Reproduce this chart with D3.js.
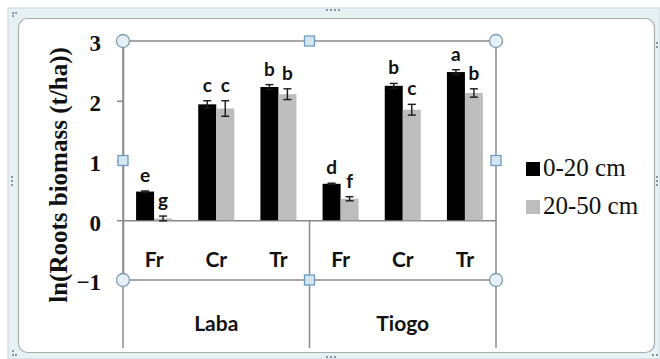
<!DOCTYPE html>
<html>
<head>
<meta charset="utf-8">
<script src="https://cdn.jsdelivr.net/npm/d3@7"></script>
<style>
  html, body { margin: 0; padding: 0; background: #ffffff; }
  svg { display: block; }
  .serif { font-family: "Liberation Serif", "Times New Roman", "DejaVu Serif", serif; }
  .sans { font-family: "Lato", "Open Sans", sans-serif; }
</style>
</head>
<body>
<svg id="chart" width="660" height="359"></svg>
<script>
// Root biomass by site, root fraction and soil depth
const sites = ["Laba", "Tiogo"];
const fractions = ["Fr", "Cr", "Tr"];
const depths = ["0-20 cm", "20-50 cm"];

const topsoil = [0.48, 1.94, 2.23, 0.61, 2.25, 2.48];      // 0-20 cm
const subsoil = [0.03, 1.87, 2.11, 0.36, 1.85, 2.13];      // 20-50 cm
const topsoilErr = [0.01, 0.06, 0.04, 0.01, 0.04, 0.04];
const subsoilErr = [0.04, 0.13, 0.09, 0.035, 0.09, 0.07];
const topsoilLetters = ["e", "c", "b", "d", "b", "a"];
const subsoilLetters = ["g", "c", "b", "f", "c", "b"];
const yTicks = [-1, 0, 1, 2, 3];

const colors = { "0-20 cm": "#000000", "20-50 cm": "#bdbdbd" };

// one row per site/fraction pair
const rows = [];
sites.forEach((s, i) => fractions.forEach((f, j) => {
  const k = i * fractions.length + j;
  rows.push({
    key: s + "-" + f, site: s, fraction: f,
    series: [
      { depth: depths[0], value: topsoil[k], err: topsoilErr[k], letter: topsoilLetters[k] },
      { depth: depths[1], value: subsoil[k], err: subsoilErr[k], letter: subsoilLetters[k] }
    ]
  });
}));

const svg = d3.select("#chart");

// outer frame of the chart object
svg.append("rect").attr("x", 8).attr("y", 8).attr("width", 652).attr("height", 351)
  .attr("fill", "#e7f1f4").attr("stroke", "#c8d6dc").attr("stroke-width", 1);
svg.append("rect").attr("x", 18.5).attr("y", 18.5).attr("width", 636).attr("height", 334)
  .attr("rx", 9).attr("fill", "#ffffff").attr("stroke", "#a8adb0").attr("stroke-width", 1.2);

// small grip dots on the frame
const gripDots = [
  [12, 12], [15, 12], [12, 15],
  [326, 9], [330, 9], [334, 9], [338, 9],
  [11, 176], [11, 180], [11, 184],
  [656, 42], [656, 46], [656, 176], [656, 180], [656, 184],
  [326, 356], [330, 356], [334, 356],
  [12, 350], [12, 354], [15, 354], [656, 354], [652, 354]
];
svg.append("g").selectAll("rect").data(gripDots).join("rect")
  .attr("x", d => d[0]).attr("y", d => d[1]).attr("width", 2).attr("height", 2)
  .attr("fill", "#8795a0");

// scales
const plot = { left: 123, right: 496, top: 41, bottom: 280 };
const x0 = d3.scaleBand().domain(rows.map(r => r.key)).range([plot.left, plot.right]).padding(0);
const groupWidth = 36;
const x1 = d3.scaleBand().domain(depths).range([0, groupWidth]).padding(0);
const y = d3.scaleLinear().domain([-1, 3]).range([plot.bottom, plot.top]);

const lineColor = "#8a8a8a";

// plot-area frame and category separators
const g = svg.append("g");
g.append("line").attr("x1", plot.left).attr("x2", plot.right)
  .attr("y1", plot.top).attr("y2", plot.top).attr("stroke", lineColor).attr("stroke-width", 1.5);
g.append("line").attr("x1", plot.left).attr("x2", plot.right)
  .attr("y1", y(-1)).attr("y2", y(-1)).attr("stroke", lineColor).attr("stroke-width", 1.5);
g.append("line").attr("x1", plot.right).attr("x2", plot.right)
  .attr("y1", plot.top).attr("y2", 348).attr("stroke", lineColor).attr("stroke-width", 1.5);
g.append("line").attr("x1", plot.left).attr("x2", plot.left)
  .attr("y1", plot.top).attr("y2", 348).attr("stroke", lineColor).attr("stroke-width", 1.5);
const siteSplit = x0(sites[1] + "-" + fractions[0]);
g.append("line").attr("x1", siteSplit).attr("x2", siteSplit)
  .attr("y1", y(0)).attr("y2", 348).attr("stroke", lineColor).attr("stroke-width", 1.5);

// y axis
const yAxis = d3.axisLeft(y).tickValues(yTicks).tickSize(6).tickSizeOuter(0).tickPadding(16)
  .tickFormat(d3.format("d"));
const ya = svg.append("g").attr("transform", `translate(${plot.left},0)`).call(yAxis)
  .attr("font-family", null).attr("font-size", null);
ya.select(".domain").attr("stroke", lineColor).attr("stroke-width", 1.5);
ya.selectAll(".tick line").attr("stroke", lineColor).attr("stroke-width", 1.5);
ya.selectAll(".tick text")
  .attr("dy", "0.43em")
  .attr("class", "serif")
  .style("font-weight", "bold").style("font-size", "23px").attr("fill", "#111");

// x axis at zero
const xAxis = d3.axisBottom(x0).tickSize(0).tickSizeOuter(0).tickFormat(() => "");
const xa = svg.append("g").attr("transform", `translate(0,${y(0)})`).call(xAxis);
xa.select(".domain").attr("stroke", lineColor).attr("stroke-width", 1.5);

// bars
const groups = svg.append("g").selectAll("g").data(rows).join("g")
  .attr("transform", d => `translate(${x0(d.key) + (x0.bandwidth() - groupWidth) / 2},0)`);

groups.selectAll("rect").data(d => d.series).join("rect")
  .attr("x", d => x1(d.depth))
  .attr("y", d => y(Math.max(0, d.value)))
  .attr("width", x1.bandwidth())
  .attr("height", d => Math.abs(y(d.value) - y(0)))
  .attr("fill", d => colors[d.depth]);

// error bars
const capHalf = 4;
const eb = groups.selectAll("g.err").data(d => d.series).join("g").attr("class", "err")
  .attr("stroke", "#1a1a1a").attr("stroke-width", 1.4);
eb.append("line")
  .attr("x1", d => x1(d.depth) + x1.bandwidth() / 2).attr("x2", d => x1(d.depth) + x1.bandwidth() / 2)
  .attr("y1", d => y(d.value + d.err)).attr("y2", d => y(d.value - d.err));
eb.append("line")
  .attr("x1", d => x1(d.depth) + x1.bandwidth() / 2 - capHalf).attr("x2", d => x1(d.depth) + x1.bandwidth() / 2 + capHalf)
  .attr("y1", d => y(d.value + d.err)).attr("y2", d => y(d.value + d.err));
eb.append("line")
  .attr("x1", d => x1(d.depth) + x1.bandwidth() / 2 - capHalf).attr("x2", d => x1(d.depth) + x1.bandwidth() / 2 + capHalf)
  .attr("y1", d => y(d.value - d.err)).attr("y2", d => y(d.value - d.err));

// significance letters
groups.selectAll("text.sig").data(d => d.series).join("text").attr("class", "sig sans")
  .attr("x", d => x1(d.depth) + x1.bandwidth() / 2)
  .attr("y", d => y(d.value + d.err) - 9)
  .attr("text-anchor", "middle")
  .style("font-weight", "bold").style("font-size", "19px")
  .attr("fill", "#111")
  .text(d => d.letter);

// category labels
const sansLabel = sel => sel.attr("class", "sans")
  .style("font-weight", "bold").style("font-size", "21px").attr("fill", "#111").attr("text-anchor", "middle");
svg.append("g").selectAll("text").data(rows).join("text")
  .attr("x", d => x0(d.key) + x0.bandwidth() / 2).attr("y", 266.5)
  .call(sansLabel).text(d => d.fraction);
svg.append("g").selectAll("text").data(sites).join("text")
  .attr("x", s => {
    const a = x0(s + "-" + fractions[0]);
    const b = x0(s + "-" + fractions[fractions.length - 1]) + x0.bandwidth();
    return (a + b) / 2;
  })
  .attr("y", 330.5)
  .call(sansLabel).text(s => s);

// y-axis title
svg.append("text")
  .attr("class", "serif")
  .attr("transform", "translate(67,175) rotate(-90)")
  .attr("text-anchor", "middle")
  .style("font-weight", "bold").style("font-size", "25px").attr("fill", "#111")
  .text("ln(Roots biomass (t/ha))");

// plot-area selection handles
const hx = [plot.left, (plot.left + plot.right) / 2, plot.right];
const hy = [plot.top, (plot.top + plot.bottom) / 2, plot.bottom];
const corners = [[hx[0], hy[0]], [hx[2], hy[0]], [hx[0], hy[2]], [hx[2], hy[2]]];
const sides = [[siteSplit, hy[0]], [siteSplit, hy[2]], [hx[0], y(1)], [hx[2], y(1)]];
svg.append("g").selectAll("circle").data(corners).join("circle")
  .attr("cx", d => d[0]).attr("cy", d => d[1]).attr("r", 6.5)
  .attr("fill", "#e6f1f7").attr("stroke", "#7f9cb4").attr("stroke-width", 1.3);
svg.append("g").selectAll("rect").data(sides).join("rect")
  .attr("x", d => d[0] - 5).attr("y", d => d[1] - 5).attr("width", 10).attr("height", 10)
  .attr("fill", "#d3e6f2").attr("stroke", "#6f9cc2").attr("stroke-width", 1.3);

// legend
const legend = svg.append("g").selectAll("g").data(depths).join("g")
  .attr("transform", (d, i) => `translate(526,${162 + i * 38})`);
legend.append("rect").attr("width", 14).attr("height", 14).attr("fill", d => colors[d]);
legend.append("text").attr("class", "serif").attr("x", 17).attr("y", 14)
  .style("font-size", "25px").attr("fill", "#111")
  .text(d => d);
</script>
</body>
</html>
